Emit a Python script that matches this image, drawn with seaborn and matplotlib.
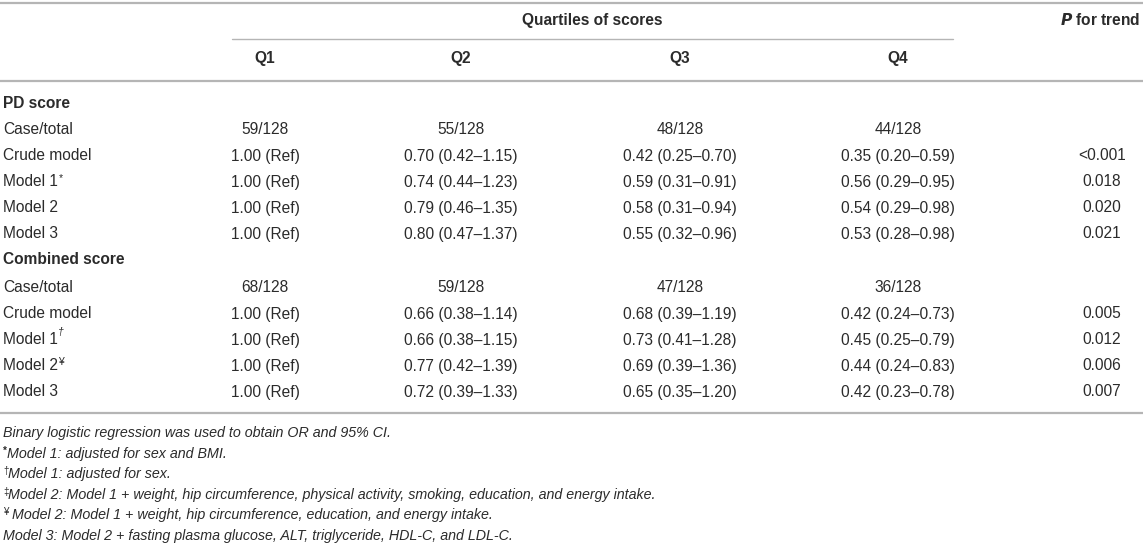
import matplotlib.pyplot as plt
import seaborn as sns

# table content
quartiles = ["Q1", "Q2", "Q3", "Q4"]
row_labels = ["Case/total", "Crude model", "Model 1", "Model 2", "Model 3"]

pd_marks = ["", "", "*", "", ""]
pd_q1 = ["59/128", "1.00 (Ref)", "1.00 (Ref)", "1.00 (Ref)", "1.00 (Ref)"]
pd_q2 = ["55/128", "0.70 (0.42–1.15)", "0.74 (0.44–1.23)", "0.79 (0.46–1.35)", "0.80 (0.47–1.37)"]
pd_q3 = ["48/128", "0.42 (0.25–0.70)", "0.59 (0.31–0.91)", "0.58 (0.31–0.94)", "0.55 (0.32–0.96)"]
pd_q4 = ["44/128", "0.35 (0.20–0.59)", "0.56 (0.29–0.95)", "0.54 (0.29–0.98)", "0.53 (0.28–0.98)"]
pd_trend = ["", "<0.001", "0.018", "0.020", "0.021"]

comb_marks = ["", "", "†", "¥", ""]
comb_q1 = ["68/128", "1.00 (Ref)", "1.00 (Ref)", "1.00 (Ref)", "1.00 (Ref)"]
comb_q2 = ["59/128", "0.66 (0.38–1.14)", "0.66 (0.38–1.15)", "0.77 (0.42–1.39)", "0.72 (0.39–1.33)"]
comb_q3 = ["47/128", "0.68 (0.39–1.19)", "0.73 (0.41–1.28)", "0.69 (0.39–1.36)", "0.65 (0.35–1.20)"]
comb_q4 = ["36/128", "0.42 (0.24–0.73)", "0.45 (0.25–0.79)", "0.44 (0.24–0.83)", "0.42 (0.23–0.78)"]
comb_trend = ["", "0.005", "0.012", "0.006", "0.007"]

footnote_marks = ["", "*", "†", "‡", "¥", ""]
footnotes = [
    "Binary logistic regression was used to obtain OR and 95% CI.",
    "Model 1: adjusted for sex and BMI.",
    "Model 1: adjusted for sex.",
    "Model 2: Model 1 + weight, hip circumference, physical activity, smoking, education, and energy intake.",
    " Model 2: Model 1 + weight, hip circumference, education, and energy intake.",
    "Model 3: Model 2 + fasting plasma glucose, ALT, triglyceride, HDL-C, and LDL-C.",
]

sns.set_theme(style="white")
plt.rcParams["font.family"] = ["Liberation Sans", "DejaVu Sans"]

W, H = 1143, 545
fig = plt.figure(figsize=(W / 100, H / 100), dpi=100)
ax = fig.add_axes([0, 0, 1, 1])
ax.set_xlim(0, W)
ax.set_ylim(H, 0)
ax.axis("off")

txt = "#2b2b2b"
line_col = "#b5b5b5"
fs = 11.2
fn_fs = 10.3
col_x = [265, 461, 680, 898]
trend_x = 1102
label_x = 3

renderer = fig.canvas.get_renderer()


def add_sup(t, mark, size=7.5, dy=-5, style="normal"):
    # put a small mark right after a text object
    bb = t.get_window_extent(renderer=renderer)
    x0 = ax.transData.inverted().transform((bb.x1, bb.y0))[0]
    y0 = t.get_position()[1]
    ax.text(x0 + 0.5, y0 + dy, mark, fontsize=size, color=txt, ha="left",
            va="center", style=style)


# rules
ax.axhline(3, color=line_col, lw=1.6)
ax.plot([232, 953], [39, 39], color=line_col, lw=1.0)
ax.axhline(81, color=line_col, lw=1.6)
ax.axhline(413, color=line_col, lw=1.6)

# header
ax.text((232 + 953) / 2, 20, "Quartiles of scores", fontsize=fs, fontweight="bold",
        color=txt, ha="center", va="center")
ax.text(1140, 20, r"$\bfit{P}$" + " for trend", fontsize=fs, fontweight="bold",
        color=txt, ha="right", va="center")
for x, q in zip(col_x, quartiles):
    ax.text(x, 59, q, fontsize=fs, fontweight="bold", color=txt, ha="center", va="center")


def draw_block(y_title, title, ys, marks, cols, trend, mark_styles):
    ax.text(label_x, y_title, title, fontsize=fs, fontweight="bold", color=txt,
            ha="left", va="center")
    for i, y in enumerate(ys):
        t = ax.text(label_x, y, row_labels[i], fontsize=fs, color=txt, ha="left", va="center")
        if marks[i]:
            add_sup(t, marks[i], style=mark_styles.get(marks[i], "normal"),
                    dy=mark_styles.get(marks[i] + "dy", -5))
        for x, col in zip(col_x, cols):
            ax.text(x, y, col[i], fontsize=fs, color=txt, ha="center", va="center")
        if trend[i]:
            ax.text(trend_x, y, trend[i], fontsize=fs, color=txt, ha="center", va="center")


draw_block(103, "PD score", [129, 156, 182, 208, 234], pd_marks,
           [pd_q1, pd_q2, pd_q3, pd_q4], pd_trend, {"*dy": -4})
draw_block(260, "Combined score", [287, 314, 340, 366, 392], comb_marks,
           [comb_q1, comb_q2, comb_q3, comb_q4], comb_trend,
           {"†": "italic", "†dy": -8, "¥dy": -4})

# footnotes
fn_y = [433, 454, 474, 495, 515, 536]
for y, m, s in zip(fn_y, footnote_marks, footnotes):
    x = label_x
    if m:
        mt = ax.text(x, y - 3, m, fontsize=7, color=txt, ha="left", va="center",
                     fontweight="bold" if m == "*" else "normal")
        bb = mt.get_window_extent(renderer=renderer)
        x = ax.transData.inverted().transform((bb.x1, bb.y0))[0]
    ax.text(x, y, s, fontsize=fn_fs, color=txt, ha="left", va="center", style="italic")

fig.savefig("out.png", dpi=100)
